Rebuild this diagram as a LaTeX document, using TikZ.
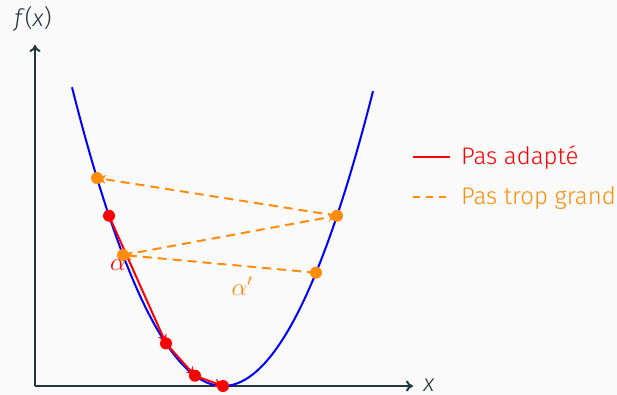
\documentclass[tikz,border=0pt]{standalone}
\usepackage{fontspec}
\setmainfont{Fira Sans Light}
\usetikzlibrary{arrows.meta}
\definecolor{bgc}{HTML}{FAFAFA}
\definecolor{axc}{HTML}{23373B}
\definecolor{orc}{RGB}{255,140,10}
\begin{document}
\begin{tikzpicture}[x=1pt,y=-1pt,
  declare function={f(\x)=386-(0.11446*(\x-223))^2;},
  axis/.style={draw=axc,line width=2pt,-{To[length=7pt,width=11pt]}},
  lbl/.style={font=\fontsize{24}{28}\selectfont,inner sep=0pt},
  curve/.style={draw=blue,line width=2pt},
  redstep/.style={draw=red,line width=2pt,-{Stealth[length=9pt,width=9pt]}},
  orstep/.style={draw=orc,line width=2pt,dash pattern=on 9pt off 6pt,-{Stealth[length=9pt,width=9pt]}},
  rdot/.style={circle,fill=red,inner sep=0pt,minimum size=12pt},
  odot/.style={circle,fill=orc,inner sep=0pt,minimum size=12pt}]
\fill[bgc] (0,0) rectangle (617,395);
\useasboundingbox (0,0) rectangle (617,395);
% axes
\coordinate (O) at (35,386);
\coordinate (ytop) at (35,45);
\coordinate (xend) at (413,386);
\draw[axis] (O) -- (ytop);
\draw[axis] (O) -- (xend);
\node[lbl,text=axc] (fx) at (33,19) {\textit{f}(\textit{x})};
\node[lbl,text=axc,anchor=base] (xl) at (429,391) {\textit{x}};
% curve
\draw[curve] plot[domain=72:373,samples=120,smooth] (\x,{f(\x)});
% red points
\coordinate (r1) at (109,{f(109)});
\coordinate (r2) at (166,{f(166)});
\coordinate (r3) at (195,{f(195)});
\coordinate (r4) at (223,{f(223)});
\draw[redstep] (r1) -- (r2);
\draw[redstep] (r2) -- (r3);
\draw[redstep] (r3) -- (r4);
% orange points
\coordinate (o1) at (316,{f(316)});
\coordinate (o2) at (123,{f(123)});
\coordinate (o3) at (337,{f(337)});
\coordinate (o4) at (97,{f(97)});
\draw[orstep] (o1) -- (o2);
\draw[orstep] (o2) -- (o3);
\draw[orstep] (o3) -- (o4);
\foreach \p in {r1,r2,r3,r4} \node[rdot] at (\p) {};
\foreach \p in {o1,o2,o3,o4} \node[odot] at (\p) {};
\node[lbl,text=red] (alpha) at (118,265) {$\alpha$};
\node[lbl,text=orc] (alphap) at (242,286) {$\alpha'$};
% legend
\coordinate (la1) at (413,157);
\coordinate (la2) at (450,157);
\coordinate (lb1) at (413,197);
\coordinate (lb2) at (450,197);
\draw[red,line width=2pt] (la1) -- (la2);
\draw[orc,line width=2pt,dash pattern=on 7pt off 6pt] (lb1) -- (lb2);
\node[lbl,text=red,anchor=west] (leg1) at (461,158) {Pas adapté};
\node[lbl,text=orc,anchor=west] (leg2) at (461,198) {Pas trop grand};
\end{tikzpicture}
\end{document}
